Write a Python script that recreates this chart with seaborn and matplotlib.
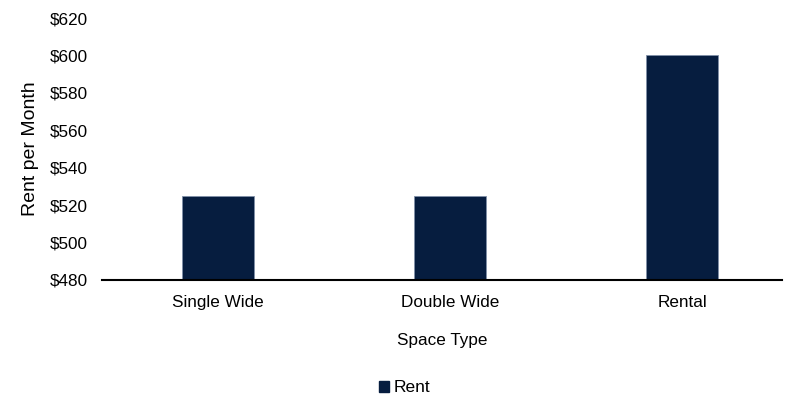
import matplotlib
matplotlib.use("Agg")
import matplotlib.pyplot as plt
import seaborn as sns
import pandas as pd
from matplotlib.ticker import FuncFormatter
from matplotlib.patches import Patch

categories = ["Single Wide", "Double Wide", "Rental"]
rent = [525, 525, 600]
series_name = "Rent"

sns.set_style("white")
plt.rcParams['font.family'] = ['Liberation Sans', 'DejaVu Sans']
plt.rcParams['text.color'] = 'black'
plt.rcParams['axes.labelcolor'] = 'black'

df = pd.DataFrame({"Space Type": categories, "Rent": rent})
color = "#061d3f"

fig = plt.figure(figsize=(7.91, 3.99), dpi=100)
ax = fig.add_axes([102/791, 1-280/399, 680/791, (280-18)/399])
sns.barplot(data=df, x="Space Type", y="Rent", color=color, width=0.31,
            saturation=1, ax=ax, edgecolor="#8090a8", linewidth=0.6)
ax.set_ylim(480, 620)
ax.set_xlim(-0.5, 2.43)
ax.set_yticks(range(480, 621, 20))
ax.yaxis.set_major_formatter(FuncFormatter(lambda v, p: f"${int(v)}"))
ax.tick_params(axis="both", length=0, labelsize=12.3, colors="black")
ax.tick_params(axis="y", pad=10)
ax.tick_params(axis="x", pad=11)
for s in ["top", "right", "left"]:
    ax.spines[s].set_visible(False)
ax.spines["bottom"].set_color("black")
ax.spines["bottom"].set_linewidth(1.5)
ax.set_ylabel("Rent per Month", fontsize=14, labelpad=8)
ax.set_xlabel("Space Type", fontsize=12.3, labelpad=16)

handles = [Patch(facecolor=color, edgecolor=color, label=series_name)]
fig.legend(handles=handles, loc="center", bbox_to_anchor=(405/791, 1-388/399),
           frameon=False, fontsize=12.5, handlelength=0.55, handleheight=0.55,
           handletextpad=0.3)

fig.savefig("out.png", dpi=100)
